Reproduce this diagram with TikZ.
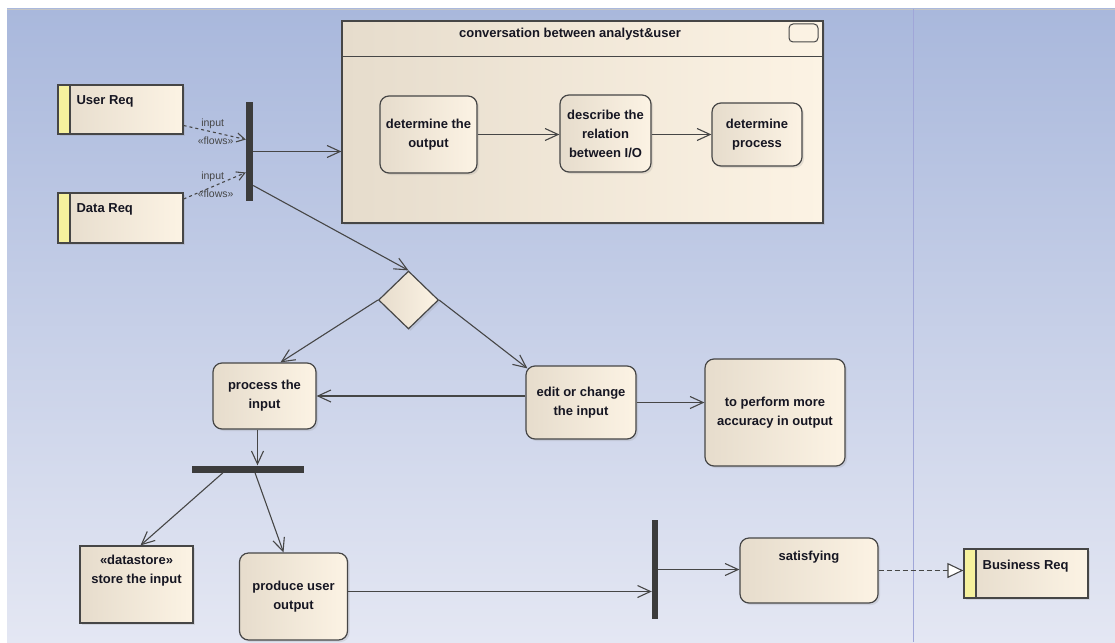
\documentclass[tikz,border=0pt]{standalone}
\usepackage{fontspec}
\setmainfont{Liberation Sans}
\usetikzlibrary{arrows.meta,shapes.geometric,shadows}
\definecolor{bgtop}{RGB}{169,184,220}
\definecolor{bgbot}{RGB}{228,231,243}
\definecolor{boxl}{RGB}{230,220,204}
\definecolor{boxr}{RGB}{252,243,228}
\definecolor{edgec}{RGB}{70,70,70}
\definecolor{reqbar}{RGB}{246,241,158}
\definecolor{barc}{RGB}{60,60,60}
\definecolor{lanec}{RGB}{160,166,216}
\definecolor{txt}{RGB}{22,22,34}

\begin{document}
\begin{tikzpicture}[x=1pt, y=-1pt,
	font=\fontsize{13}{19}\selectfont\bfseries, text=txt,
	>={Straight Barb[length=13pt,width=12pt]},
	boxfill/.style={left color=boxl, right color=boxr, draw=edgec, line width=1.2pt, inner sep=0pt,
		drop shadow={opacity=0.18, shadow xshift=2pt, shadow yshift=-2pt}},
	act/.style={boxfill, rounded corners=9pt, align=center},
	req/.style={boxfill, path picture={
		\fill[reqbar] (path picture bounding box.north west) rectangle ([xshift=11pt]path picture bounding box.south west);
		\draw[edgec, line width=2.4pt] ([xshift=12pt]path picture bounding box.north west) -- ([xshift=12pt]path picture bounding box.south west);}},
	bar/.style={fill=barc, inner sep=0pt},
	flow/.style={edgec, line width=1.1pt, dashed, -{Straight Barb[length=8pt,width=9pt]}},
	tag/.style={font=\fontsize{10.5}{11}\selectfont, inner sep=0.5pt},
	link/.style={edgec, line width=1.1pt, ->}]
	\useasboundingbox (0,0) rectangle (1115,642);
	\shade[top color=bgtop, bottom color=bgbot] (7,9) rectangle (1115,642);
	\draw[gray!45] (7,9) -- (1115,9);
	\draw[lanec, line width=0.8pt] (913,9) -- (913,642);

	\node (userreq) [req, minimum width=125pt, minimum height=49pt,
		label={[anchor=north west, xshift=19pt, yshift=-11pt, inner sep=0pt]north west:User Req}] at (120.5,109.5) {};
	\node (datareq) [req, minimum width=125pt, minimum height=50pt,
		label={[anchor=north west, xshift=19pt, yshift=-11pt, inner sep=0pt]north west:Data Req}] at (120.5,218) {};
	\node (fork) [bar, minimum width=7pt, minimum height=99pt] at (249.5,151.5) {};

	\node (conv) [boxfill, minimum width=481pt, minimum height=202pt] at (582.5,122) {};
	\draw[edgec, line width=1.2pt] ([yshift=-36pt]conv.north west) -- ([yshift=-36pt]conv.north east);
	\node (convtitle) at (570,34) {conversation between analyst\&user};
	\node (convicon) [draw=edgec, line width=1pt, rounded corners=4pt, minimum width=29pt, minimum height=18pt] at (803.5,33) {};
	\node (detout) [act, minimum width=97pt, minimum height=77pt] at (428.5,134.5) {determine the\\output};
	\node (descrel) [act, minimum width=91pt, minimum height=77pt] at (605.5,133.5) {describe the\\relation\\between I/O};
	\node (detproc) [act, minimum width=90pt, minimum height=63pt] at (757,134.5) {determine\\process};

	\node (choice) [boxfill, diamond, minimum width=60pt, minimum height=58pt] at (408.5,300) {};
	\node (procin) [act, minimum width=103pt, minimum height=66pt] at (264.5,396) {process the\\input};
	\node (editin) [act, minimum width=110pt, minimum height=73pt] at (581,402.5) {edit or change\\the input};
	\node (accur) [act, minimum width=140pt, minimum height=107pt] at (775,412.5) {to perform more\\accuracy in output};
	\node (join) [bar, minimum width=112pt, minimum height=7pt] at (248,469) {};
	\node (store) [boxfill, minimum width=113pt, minimum height=77pt,
		label={[anchor=north, yshift=-9pt, inner sep=0pt, align=center]north:{«datastore»\\store the input}}] at (136.5,584.5) {};
	\node (produce) [act, minimum width=108pt, minimum height=87pt] at (293.5,596.5) {produce user\\output};
	\node (sync) [bar, minimum width=6pt, minimum height=99pt] at (655,569.5) {};
	\node (satis) [act, minimum width=138pt, minimum height=65pt,
		label={[anchor=north, yshift=-13pt, inner sep=0pt]north:satisfying}] at (809,570.5) {};
	\node (busreq) [req, minimum width=124pt, minimum height=49pt,
		label={[anchor=north west, xshift=19pt, yshift=-11pt, inner sep=0pt]north west:Business Req}] at (1026,573.5) {};

	\draw[flow] ([yshift=-16pt]userreq.east) -- node (in1) [tag, above=3pt, xshift=-2pt] {input} node (fl1) [tag, below=3pt, xshift=1pt] {«flows»} ([yshift=12pt]fork.west);
	\draw[flow] ([yshift=19pt]datareq.east) -- node (in2) [tag, above=3pt, xshift=-2pt] {input} node (fl2) [tag, below=3pt, xshift=1pt] {«flows»} ([yshift=-21pt]fork.west);
	\draw[link] (fork.east) -- (fork.east -| conv.west);
	\draw[link] (detout.east) -- (detout.east -| descrel.west);
	\draw[link] ([yshift=-1pt]descrel.east) -- ([yshift=-1pt]descrel.east -| detproc.west);
	\draw[link] ([yshift=-34pt]fork.east) -- (choice.north);
	\draw[link] (choice.west) -- ([xshift=16pt]procin.north);
	\draw[link] (choice.east) -- ([xshift=2pt,yshift=-3pt]editin.north west);
	\draw[link] (editin.west |- procin.east) -- (procin.east);
	\draw[link] (editin.east) -- (editin.east -| accur.west);
	\draw[link] ([xshift=-7pt]procin.south) -- ([xshift=-7pt]procin.south |- join.north);
	\draw[link] ([xshift=-25pt]join.south) -- ([xshift=4pt]store.north);
	\draw[link] ([xshift=7pt]join.south) -- ([xshift=-10pt]produce.north);
	\draw[link] ([yshift=5pt]produce.east) -- ([yshift=5pt]produce.east -| sync.west);
	\draw[link] (sync.east) -- (sync.east -| satis.west);
	\draw[edgec, line width=1.1pt, dash pattern=on 5pt off 3pt, -{Triangle[fill=white,length=16pt,width=15pt]}] (satis.east) -- (satis.east -| busreq.west);
\end{tikzpicture}
\end{document}
